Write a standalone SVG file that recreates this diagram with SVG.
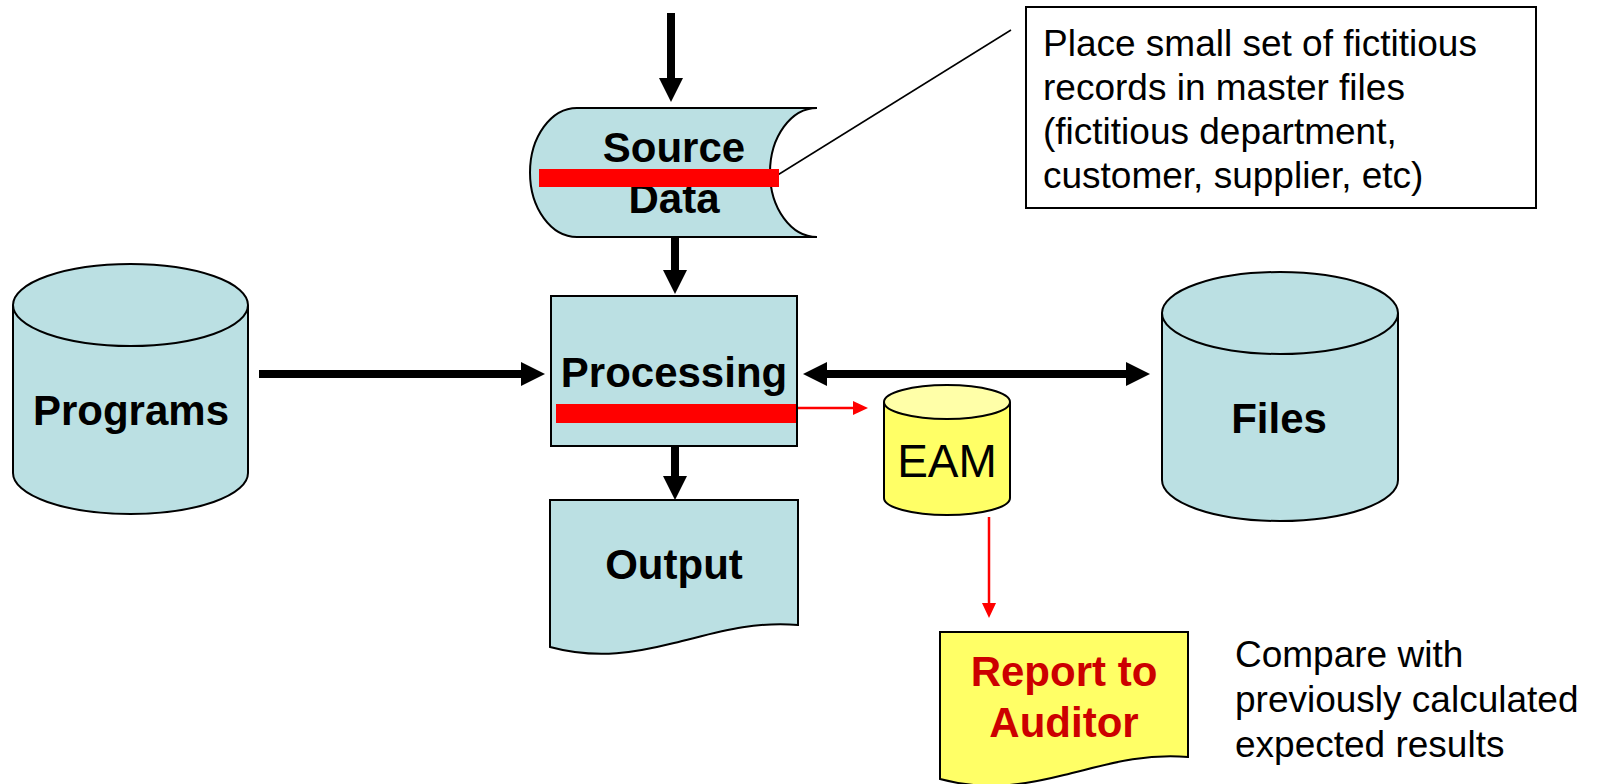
<svg xmlns="http://www.w3.org/2000/svg" width="1598" height="784" viewBox="0 0 1598 784">
  <style>
    .blue { fill: #BBE0E3; stroke: #000; stroke-width: 2; }
    .yel { fill: #FFFF66; stroke: #000; stroke-width: 2; }
    .yeltop { fill: #FFFFA8; stroke: #000; stroke-width: 2; }
    .lbl { font-family: "Liberation Sans", Arial, sans-serif; font-size: 42px; font-weight: bold; fill: #000; text-anchor: middle; }
    .txt { font-family: "Liberation Sans", Arial, sans-serif; font-size: 37px; fill: #000; }
    .red-lbl { fill: #CC0000; }
    .flow { stroke: #000; stroke-width: 8; fill: none; }
    .audit { stroke: #FF0000; stroke-width: 2.5; fill: none; }
    .mark { fill: #FF0000; }
  </style>
  <defs>
    <marker id="bigHead" markerUnits="userSpaceOnUse" viewBox="0 0 24 24" markerWidth="24" markerHeight="24" refX="0" refY="12" orient="auto-start-reverse">
      <path d="M0,0 L24,12 L0,24 Z" fill="#000"/>
    </marker>
    <marker id="redHead" markerUnits="userSpaceOnUse" viewBox="0 0 15 14" markerWidth="15" markerHeight="14" refX="0" refY="7" orient="auto">
      <path d="M0,0 L15,7 L0,14 Z" fill="#FF0000"/>
    </marker>
    <!-- document symbol, origin at top-left -->
    <path id="docShape" d="M0,0 H248 V125 C200,121 162,134 124,143 C88,152 48,160 0,147 Z"/>
  </defs>

  <!-- connectors -->
  <g id="connectors">
    <line class="flow" x1="671" y1="13" x2="671" y2="78" marker-end="url(#bigHead)"/>
    <line class="flow" x1="675" y1="237" x2="675" y2="270" marker-end="url(#bigHead)"/>
    <line class="flow" x1="259" y1="374" x2="521" y2="374" marker-end="url(#bigHead)"/>
    <line class="flow" x1="827" y1="374" x2="1126" y2="374" marker-start="url(#bigHead)" marker-end="url(#bigHead)"/>
    <line class="flow" x1="675" y1="446" x2="675" y2="476" marker-end="url(#bigHead)"/>
    <line class="audit" x1="796" y1="408" x2="853" y2="408" marker-end="url(#redHead)"/>
    <line class="audit" x1="989" y1="517" x2="989" y2="603" marker-end="url(#redHead)"/>
    <line x1="768" y1="181" x2="1011" y2="30" stroke="#000" stroke-width="1.5"/>
  </g>

  <!-- source data (stored data symbol) -->
  <g id="source-data">
    <path class="blue" d="M577,108 H817 A47,64.5 0 0,0 817,237 H577 A47,64.5 0 0,1 577,108 Z"/>
    <text class="lbl" x="674" y="162">Source</text>
    <text class="lbl" x="674" y="213">Data</text>
    <rect x="539" y="169" width="240" height="18" class="mark"/>
  </g>

  <!-- processing -->
  <g id="processing">
    <rect class="blue" x="551" y="296" width="246" height="150" stroke="#333"/>
    <text class="lbl" x="674" y="387">Processing</text>
    <rect x="556" y="404" width="240" height="19" class="mark"/>
  </g>

  <!-- programs -->
  <g id="programs">
    <path class="blue" d="M13,305 V473 A117.5,41 0 0,0 248,473 V305"/>
    <ellipse class="blue" cx="130.5" cy="305" rx="117.5" ry="41"/>
    <text class="lbl" x="131" y="425">Programs</text>
  </g>

  <!-- files -->
  <g id="files">
    <path class="blue" d="M1162,313 V480 A118,41 0 0,0 1398,480 V313"/>
    <ellipse class="blue" cx="1280" cy="313" rx="118" ry="41"/>
    <text class="lbl" x="1279" y="433">Files</text>
  </g>

  <!-- output -->
  <g id="output">
    <use href="#docShape" class="blue" transform="translate(550,500)"/>
    <text class="lbl" x="674" y="579">Output</text>
  </g>

  <!-- embedded audit module -->
  <g id="eam">
    <path class="yel" d="M884,402 V498 A63,17 0 0,0 1010,498 V402"/>
    <ellipse class="yeltop" cx="947" cy="402" rx="63" ry="17"/>
    <text x="947" y="477" text-anchor="middle" font-family="Liberation Sans, Arial, sans-serif" font-size="46">EAM</text>
  </g>

  <!-- report to auditor -->
  <g id="report">
    <use href="#docShape" class="yel" transform="translate(940,632)"/>
    <text class="lbl red-lbl" x="1064" y="686">Report to</text>
    <text class="lbl red-lbl" x="1064" y="737">Auditor</text>
  </g>

  <!-- note box -->
  <g id="note">
    <rect x="1026" y="7" width="510" height="201" fill="#fff" stroke="#000" stroke-width="2"/>
    <text class="txt" x="1043" y="56">Place small set of fictitious</text>
    <text class="txt" x="1043" y="100">records in master files</text>
    <text class="txt" x="1043" y="144">(fictitious department,</text>
    <text class="txt" x="1043" y="188">customer, supplier, etc)</text>
  </g>

  <!-- comparison note -->
  <g id="compare-note">
    <text class="txt" x="1235" y="667">Compare with</text>
    <text class="txt" x="1235" y="712">previously calculated</text>
    <text class="txt" x="1235" y="757">expected results</text>
  </g>
</svg>
